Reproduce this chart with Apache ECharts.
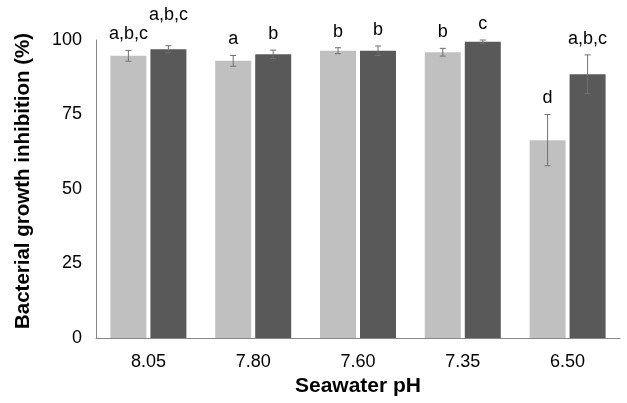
<!DOCTYPE html>
<html>
<head>
<meta charset="utf-8">
<script src="https://cdn.jsdelivr.net/npm/echarts@6/dist/echarts.min.js"></script>
<style>
  html, body { margin: 0; padding: 0; background: #fff; }
  #chartDiv { width: 627px; height: 403px; }
</style>
</head>
<body>
<div id="chartDiv"></div>
<script>
// 数据
var categories = ['8.05', '7.80', '7.60', '7.35', '6.50'];
var lightValues = [94.7, 93.0, 96.4, 95.9, 66.4];
var lightErrors = [1.8, 1.8, 1.0, 1.3, 8.6];
var lightLetters = ['a,b,c', 'a', 'b', 'b', 'd'];
var darkValues = [96.9, 95.2, 96.4, 99.4, 88.5];
var darkErrors = [1.2, 1.4, 1.6, 0.6, 6.5];
var darkLetters = ['a,b,c', 'b', 'b', 'c', 'a,b,c'];
var yTicks = [0, 25, 50, 75, 100];

var font = 'Arial, "Liberation Sans", sans-serif';
var barW = 36;
var barGapPx = 4;
var shift = (barW + barGapPx) / 2;

var chart = echarts.init(document.getElementById('chartDiv'));

// 误差线 + 字母标注
function errorSeries(values, errors, letters, side) {
    return {
        type: 'custom',
        silent: true,
        z: 5,
        data: values.map(function (v, i) { return [i, v, errors[i]]; }),
        renderItem: function (params, api) {
            var i = api.value(0);
            var v = api.value(1);
            var e = api.value(2);
            var c = api.coord([i, v]);
            var x = c[0] + side * shift;
            var hi = api.coord([i, v + e])[1];
            var lo = api.coord([i, v - e])[1];
            var style = { stroke: '#707070', lineWidth: 1 };
            // 原图中第一组深色柱的标注被抬高以避免重叠
            var lift = (side > 0 && i === 0) ? 15 : 0;
            return {
                type: 'group',
                children: [
                    { type: 'line', shape: { x1: x, y1: hi, x2: x, y2: lo }, style: style },
                    { type: 'line', shape: { x1: x - 3, y1: hi, x2: x + 3, y2: hi }, style: style },
                    { type: 'line', shape: { x1: x - 3, y1: lo, x2: x + 3, y2: lo }, style: style },
                    {
                        type: 'text',
                        style: {
                            x: x, y: hi - 7 - lift,
                            text: letters[i],
                            fill: '#000',
                            font: '18px ' + font,
                            align: 'center',
                            verticalAlign: 'bottom'
                        }
                    }
                ]
            };
        }
    };
}

var option = {
    animation: false,
    backgroundColor: '#fff',
    grid: { left: 96, right: 7, top: 40, bottom: 65, containLabel: false, outerBoundsMode: 'none' },
    xAxis: {
        type: 'category',
        data: categories,
        name: 'Seawater pH',
        nameLocation: 'middle',
        nameGap: 38,
        nameTextStyle: { fontFamily: font, fontSize: 21, fontWeight: 'bold', color: '#000' },
        axisLine: { lineStyle: { color: '#888', width: 1 } },
        axisTick: { show: false },
        axisLabel: { fontFamily: font, fontSize: 18, color: '#000', margin: 15 },
        splitLine: { show: false }
    },
    yAxis: {
        type: 'value',
        min: yTicks[0],
        max: yTicks[yTicks.length - 1],
        interval: yTicks[1] - yTicks[0],
        name: 'Bacterial growth inhibition (%)',
        nameLocation: 'middle',
        nameGap: 62,
        nameTextStyle: { fontFamily: font, fontSize: 20.5, fontWeight: 'bold', color: '#000', padding: [0, 0, 0, 16] },
        axisLine: { show: true, lineStyle: { color: '#888', width: 1 } },
        axisTick: { show: false },
        axisLabel: { fontFamily: font, fontSize: 18, color: '#000', margin: 14 },
        splitLine: { show: false }
    },
    series: [
        {
            type: 'bar',
            data: lightValues,
            barWidth: barW,
            barGap: (barGapPx / barW * 100) + '%',
            itemStyle: { color: '#c0c0c0' }
        },
        {
            type: 'bar',
            data: darkValues,
            barWidth: barW,
            itemStyle: { color: '#595959' }
        },
        errorSeries(lightValues, lightErrors, lightLetters, -1),
        errorSeries(darkValues, darkErrors, darkLetters, 1)
    ]
};

chart.setOption(option);
</script>
</body>
</html>
